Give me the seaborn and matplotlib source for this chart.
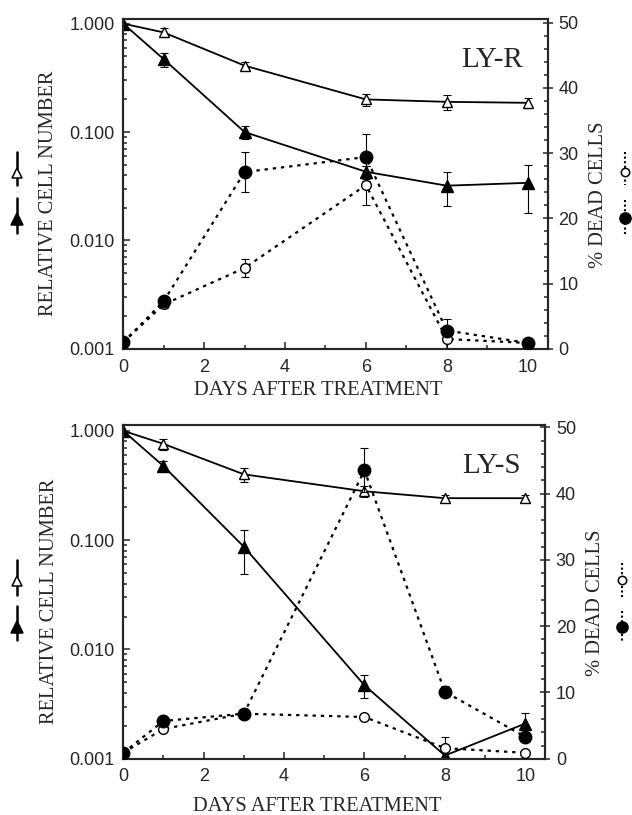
import matplotlib
matplotlib.use("Agg")
import matplotlib.pyplot as plt
from matplotlib.lines import Line2D
from matplotlib.ticker import FixedLocator, NullFormatter, FormatStrFormatter, MultipleLocator
import numpy as np
import pandas as pd
import seaborn as sns

# ---- data -------------------------------------------------------------
days = [0, 1, 3, 6, 8, 10]
x_ticks = [0, 2, 4, 6, 8, 10]
log_ticks = [0.001, 0.010, 0.100, 1.000]
pct_ticks = [0, 10, 20, 30, 40, 50]
panel_names = ["LY-R", "LY-S"]

# LY-R : relative cell number (left, log axis)
r_ctrl = [1.0, 0.83, 0.41, 0.20, 0.19, 0.186]
r_ctrl_err = [0, 0.08, 0.03, 0.025, 0.03, 0.02]
r_trt = [1.0, 0.47, 0.10, 0.043, 0.032, 0.034]
r_trt_err = [0, 0.07, 0.014, 0.006, 0.011, 0.016]
# LY-R : % dead cells (right axis)
r_dead_ctrl = [1.0, 6.8, 12.4, 25.1, 1.5, 0.9]
r_dead_ctrl_err = [0, 0.5, 1.4, 3.0, 1.5, 0]
r_dead_trt = [1.0, 7.3, 27.1, 29.4, 2.8, 0.9]
r_dead_trt_err = [0, 0.6, 3.0, 3.6, 1.8, 0]

# LY-S : relative cell number (left, log axis)
s_ctrl = [1.0, 0.76, 0.40, 0.28, 0.242, 0.242]
s_ctrl_err = [0, 0.09, 0.06, 0.03, 0.015, 0.015]
s_trt = [1.0, 0.476, 0.087, 0.0047, 0.00107, 0.0021]
s_trt_err = [0, 0.05, 0.038, 0.0011, 0, 0.0005]
# LY-S : % dead cells (right axis)
s_dead_ctrl = [0.9, 4.5, 6.8, 6.3, 1.6, 0.9]
s_dead_ctrl_err = [0, 0, 0, 0.4, 1.7, 0]
s_dead_trt = [0.9, 5.7, 6.8, 43.5, 10.1, 3.3]
s_dead_trt_err = [0, 0.3, 0.3, 3.3, 0.8, 0]

# ---- style ------------------------------------------------------------
sns.set_style("ticks")
plt.rcParams["font.family"] = ["Liberation Sans", "DejaVu Sans"]
SERIF = ["Liberation Serif", "DejaVu Serif"]
DOT = (0, (1.5, 2.2))

fig = plt.figure(figsize=(6.32, 8.15), dpi=100)


def errbars(ax, y, e):
    xs = [d for d, v in zip(days, e) if v > 0]
    ys = [a for a, v in zip(y, e) if v > 0]
    es = [v for v in e if v > 0]
    ax.errorbar(xs, ys, yerr=es, fmt="none", ecolor="black",
                elinewidth=0.8, capsize=3.2, capthick=0.8, zorder=2)


def series(ax, y, e, marker, filled, ms, ls, lw):
    df = pd.DataFrame({"day": days, "val": y})
    errbars(ax, y, e)
    sns.lineplot(data=df, x="day", y="val", ax=ax, color="black",
                 linestyle=ls, linewidth=lw, marker=marker, markersize=ms,
                 markerfacecolor="black" if filled else "white",
                 markeredgecolor="black", markeredgewidth=1.0, zorder=3)


def panel(rect, name, ctrl, ctrl_e, trt, trt_e, dctrl, dctrl_e, dtrt, dtrt_e,
          ytop, ptop, xlab_y):
    ax = fig.add_axes(rect)
    ax.set_yscale("log")
    series(ax, ctrl, ctrl_e, "^", False, 6.5, "-", 1.3)
    series(ax, trt, trt_e, "^", True, 8.5, "-", 1.3)
    ax.set_xlim(0, 10.5)
    ax.set_ylim(0.001, ytop)
    ax.yaxis.set_major_locator(FixedLocator(log_ticks))
    ax.yaxis.set_major_formatter(FormatStrFormatter("%.3f"))
    ax.yaxis.set_minor_formatter(NullFormatter())
    ax.set_xticks(x_ticks)
    ax.xaxis.set_minor_locator(MultipleLocator(1))
    ax.tick_params(axis="both", which="both", direction="in", labelsize=13,
                   width=1.1)
    ax.tick_params(axis="y", pad=6)
    ax.tick_params(axis="x", pad=7)
    ax.tick_params(which="major", length=5)
    ax.tick_params(which="minor", length=3)
    ax.set_ylabel("RELATIVE CELL NUMBER", family=SERIF, fontsize=14.8)
    ax.yaxis.set_label_coords(-0.153, 0.47)
    ax.set_xlabel("DAYS AFTER TREATMENT", family=SERIF, fontsize=14.8)
    ax.xaxis.set_label_coords(0.46, xlab_y)
    for s in ax.spines.values():
        s.set_linewidth(1.5)

    ax2 = ax.twinx()
    series(ax2, dctrl, dctrl_e, "o", False, 7, DOT, 1.6)
    series(ax2, dtrt, dtrt_e, "o", True, 9, DOT, 1.6)
    ax2.set_ylim(0, ptop)
    ax2.set_yticks(pct_ticks)
    ax2.yaxis.set_minor_locator(MultipleLocator(2))
    ax2.tick_params(axis="y", which="major", direction="inout", length=7,
                    labelsize=13, pad=4, width=1.1)
    ax2.tick_params(axis="y", which="minor", direction="in", length=3, width=1.1)
    ax2.set_ylabel("% DEAD CELLS", family=SERIF, fontsize=14.8)
    ax2.yaxis.set_label_coords(1.096, 0.467)
    for s in ax2.spines.values():
        s.set_linewidth(1.5)

    ax.text(0.941, 0.875, name, transform=ax.transAxes, ha="right",
            va="center", family=SERIF, fontsize=21)
    return ax, ax2


panel([0.195, 0.572, 0.672, 0.405], panel_names[0],
      r_ctrl, r_ctrl_err, r_trt, r_trt_err,
      r_dead_ctrl, r_dead_ctrl_err, r_dead_trt, r_dead_trt_err,
      1.11, 50.6, -0.097)
panel([0.195, 0.069, 0.668, 0.410], panel_names[1],
      s_ctrl, s_ctrl_err, s_trt, s_trt_err,
      s_dead_ctrl, s_dead_ctrl_err, s_dead_trt, s_dead_trt_err,
      1.14, 50.4, -0.114)


# ---- symbol keys beside the axis titles -------------------------------
def key(xpx, y0px, y1px, ympx, marker, filled, ls, ms):
    H = 815.0
    W = 632.0
    xf = xpx / W
    fig.add_artist(Line2D([xf, xf], [1 - y0px / H, 1 - y1px / H],
                          color="black", linewidth=1.8 if ls == "-" else 1.5,
                          linestyle=ls, transform=fig.transFigure))
    fig.add_artist(Line2D([xf], [1 - ympx / H], marker=marker, markersize=ms,
                          markerfacecolor="black" if filled else "white",
                          markeredgecolor="black", markeredgewidth=1.1,
                          linestyle="none", transform=fig.transFigure))


DOTK = (0, (1.0, 1.2))
# top panel
key(17, 152, 185, 173, "^", False, "-", 6.5)
key(17, 198, 233, 219, "^", True, "-", 8)
key(625, 152, 185, 172, "o", False, DOTK, 6)
key(625, 200, 234, 218, "o", True, DOTK, 8)
# bottom panel
key(17, 560, 595, 581, "^", False, "-", 6.5)
key(17, 606, 640, 627, "^", True, "-", 8)
key(622, 563, 597, 580, "o", False, DOTK, 6)
key(622, 611, 643, 627, "o", True, DOTK, 8)

fig.savefig("out.png", dpi=100)
